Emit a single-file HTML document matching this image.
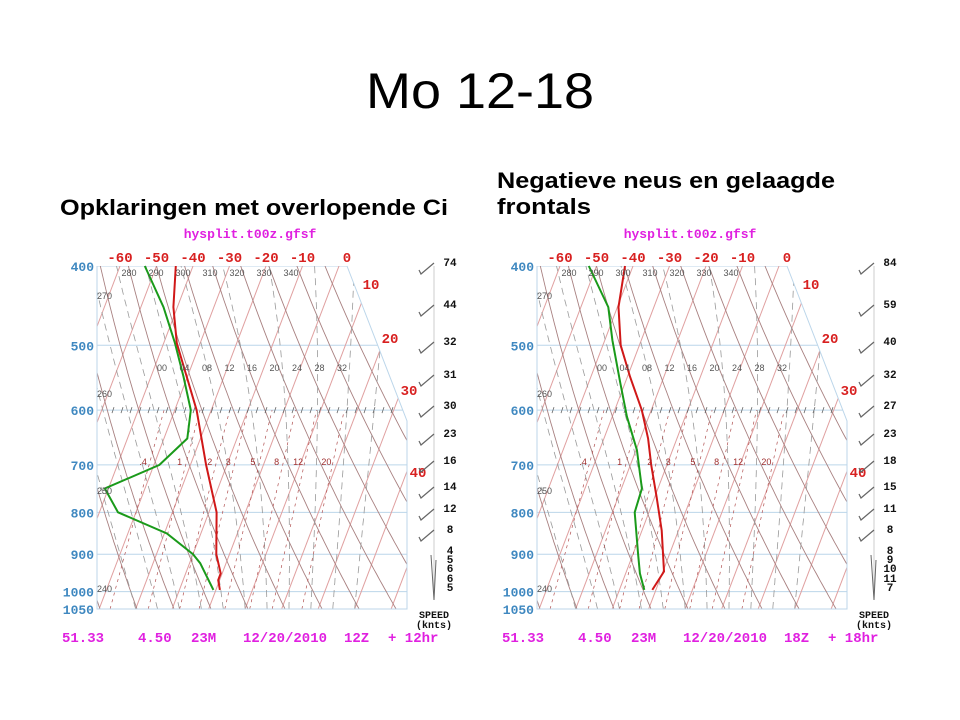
<!DOCTYPE html>
<html><head><meta charset="utf-8"><style>
html,body{margin:0;padding:0;background:#fff;}
svg{display:block;font-family:"Liberation Sans",sans-serif;}
.mono{font-family:"Liberation Mono",monospace;font-weight:bold;}
.pre{white-space:pre;}
</style></head><body>
<svg id="root" width="960" height="720" viewBox="0 0 960 720">
<text x="480" y="108" font-size="50" text-anchor="middle" fill="#000" textLength="228" lengthAdjust="spacingAndGlyphs">Mo 12-18</text>
<text x="60" y="215" font-size="22" font-weight="bold" textLength="388" lengthAdjust="spacingAndGlyphs">Opklaringen met overlopende Ci</text>
<text x="497" y="188" font-size="22" font-weight="bold" textLength="338" lengthAdjust="spacingAndGlyphs">Negatieve neus en gelaagde</text>
<text x="497" y="214" font-size="22" font-weight="bold" textLength="94" lengthAdjust="spacingAndGlyphs">frontals</text>
<g id="chartL"></g>
<g id="chartR" transform="translate(440,0)"></g>
</svg>
<script>
// ---- data ----
const leftTempP = [400,449,497,546,600,700,800,900,950,968,995];
const leftTemp  = [-44.7,-41.1,-36.4,-30.2,-24.0,-15.7,-7.9,-3.6,-0.4,-0.4,1.1];
const leftDewP  = [400,449,497,546,600,650,700,748,800,849,900,923,995];
const leftDew   = [-53.2,-43.8,-36.9,-31.1,-25.6,-23.6,-28.5,-41.0,-34.9,-19.3,-10.0,-7.1,-0.7];
const rightTempP = [400,449,500,546,600,650,700,766,842,945,995];
const rightTemp  = [-42.2,-39.7,-35.1,-29.3,-22.6,-17.9,-14.3,-9.5,-4.6,0.3,-1.0];
const rightDewP  = [400,449,493,556,611,671,748,800,900,950,995];
const rightDew   = [-52.1,-42.5,-37.9,-31.3,-26.0,-19.8,-14.4,-13.9,-8.6,-6.1,-3.2];
const leftWinds  = ['74','44','32','31','30','23','16','14','12','8','4','5','6','6','5'];
const rightWinds = ['84','59','40','32','27','23','18','15','11','8','8','9','10','11','7'];
const leftFooter = ['51.33','4.50','23M','12/20/2010','12Z','+ 12hr'];
const rightFooter = ['51.33','4.50','23M','12/20/2010','18Z','+ 18hr'];
const pressureTicks = [400,500,600,700,800,900,1000,1050];
const isothermTicks = [-60,-50,-40,-30,-20,-10,0];
const thetaLabels = [280,290,300,310,320,330,340];
const mixLabels = ['.4','1','2','3','5','8','12','20'];
const mixValues = [0.4,1,2,3,5,8,12,20];

// ---- axes ----
const yTop=266, kY=355.4, kT=3.65, skew=0.38, x0=339, xL=97, xR=407, yBot=609;
function Y(p){return yTop+Math.log(p/400)*kY;}
function X(T,p){return x0+kT*T-skew*(Y(p)-yTop);}
const NS='http://www.w3.org/2000/svg';
function el(par,tag,at,txt){const e=document.createElementNS(NS,tag);for(const k in at)e.setAttribute(k,at[k]);if(txt!==undefined)e.textContent=txt;par.appendChild(e);return e;}
function pts(arr){return arr.map(a=>a[0].toFixed(1)+','+a[1].toFixed(1)).join(' ');}
const footerX=[62,138,191,243,344,388];

function drawChart(g,id,tP,tT,dP,dT,winds,footer){
  const defs=el(g,'defs',{});
  const cp=el(defs,'clipPath',{id:'clip'+id});
  el(cp,'polygon',{points:`${xL},${yTop} 347,${yTop} ${xR},421 ${xR},${yBot} ${xL},${yBot}`});
  const bg=el(g,'g',{'clip-path':`url(#clip${id})`});
  
  
  pressureTicks.forEach(p=>{
    const l=el(bg,'line',{x1:xL,x2:xR,y1:Y(p),y2:Y(p),stroke:'#bcd6ea','stroke-width':1});
    
    
  });
  for(let T=-130;T<=60;T+=10){
    const l=el(bg,'line',{x1:X(T,1050),y1:Y(1050),x2:X(T,380),y2:Y(380),stroke:'#e0a0a0','stroke-width':1});
    
    
  }
  for(let th=230;th<=400;th+=10){
    const a=[];for(let p=1050;p>=390;p-=10){a.push([X(th*Math.pow(p/1000,0.286)-273.15,p),Y(p)]);}
    const l=el(bg,'polyline',{points:pts(a),fill:'none',stroke:'#a88080','stroke-width':0.9});
    
    
  }
  for(let T0=-20;T0<=40;T0+=6){
    let T=T0,a=[];
    for(let p=1050;p>=390;p-=5){
      a.push([X(T,p),Y(p)]);
      const Tk=T+273.15, es=6.112*Math.exp(17.67*T/(T+243.5)), rs=0.622*es/(p-es);
      const g1=(0.286*Tk+2.5e6*rs/1004)/(p*(1+2.5e6*2.5e6*rs*0.622/(1004*287*Tk*Tk)));
      T-=g1*5;
    }
    const l=el(bg,'polyline',{points:pts(a),fill:'none',stroke:'#999','stroke-width':0.8,'stroke-dasharray':'7,5'});
    
    
  }
  mixValues.forEach(w=>{
    const a=[];for(let p=1050;p>=600;p-=10){const e=w*p/(622+w),L=Math.log(e/6.112);a.push([X(243.5*L/(17.67-L),p),Y(p)]);}
    const l=el(bg,'polyline',{points:pts(a),fill:'none',stroke:'#b05050','stroke-width':0.7,'stroke-dasharray':'3,4'});
    
    
  });
  for(let x=112;x<400;x+=9){const t=el(bg,'line',{x1:x,y1:Y(600)+3,x2:x+2,y2:Y(600)-3,stroke:'#666','stroke-width':0.8});}
  const b=el(g,'polyline',{points:`347,${yTop} ${xR},421 ${xR},${yBot} ${xL},${yBot} ${xL},${yTop}`,fill:'none',stroke:'#bcd6ea','stroke-width':1});
  
  
  const dew=el(g,'polyline',{points:pts(dP.map((p,i)=>[X(dT[i],p),Y(p)])),fill:'none',stroke:'#1a9a1a','stroke-width':2});
  
  
  const tmp=el(g,'polyline',{points:pts(tP.map((p,i)=>[X(tT[i],p),Y(p)])),fill:'none',stroke:'#d01818','stroke-width':2});
  
  
  pressureTicks.forEach(p=>{
    const t=el(g,'text',{x:94,y:Y(p)+5,'font-size':13,'text-anchor':'end',fill:'#3f88c0',class:'mono'},String(p));
    
    
  });
  isothermTicks.forEach(T=>{
    const t=el(g,'text',{x:X(T,400)+(T===0?8:0),y:262,'font-size':14,'text-anchor':'middle',fill:'#d82020',class:'mono'},String(T));
    
    
  });
  [[10,371,289],[20,390,343],[30,409,395],[40,418,477]].forEach(v=>{
    const t=el(g,'text',{x:v[1],y:v[2],'font-size':14,'text-anchor':'middle',fill:'#d82020',class:'mono'},String(v[0]));
    
    
  });
  thetaLabels.forEach((th,i)=>{
    const t=el(g,'text',{x:129+i*27,y:276,'font-size':9,'text-anchor':'middle',fill:'#555'},String(th));
    
    
  });
  [['270',299],['260',397],['250',494],['240',592]].forEach(v=>{
    const t=el(g,'text',{x:97,y:v[1],'font-size':9,fill:'#555'},v[0]);
    
    
  });
  ['00','04','08','12','16','20','24','28','32'].forEach((s,i)=>{
    const t=el(g,'text',{x:162+i*22.5,y:371,'font-size':9,'text-anchor':'middle',fill:'#555'},s);
    
    
  });
  mixLabels.forEach((s,i)=>{
    const e=mixValues[i]*700/(622+mixValues[i]),L=Math.log(e/6.112);
    const t=el(g,'text',{x:X(243.5*L/(17.67-L),700)-6,y:465,'font-size':9,'text-anchor':'middle',fill:'#a03030'},s);
    
    
  });
  const ti=el(g,'text',{x:250,y:238,'font-size':13,'text-anchor':'middle',fill:'#e020e0',class:'mono'},'hysplit.t00z.gfsf');
  
  
  footer.forEach((s,i)=>{
    const ft=el(g,'text',{x:footerX[i],y:642,'font-size':14,fill:'#e020e0',class:'mono pre'},s);
    
    
  });
  const wy=[262,304,341,374,405,433,460,486,508,529,550,559,568,578,587];
  const st=el(g,'line',{x1:434,y1:266,x2:434,y2:600,stroke:'#ccc','stroke-width':1});
  
  
  winds.forEach((w,i)=>{
    const t=el(g,'text',{x:450,y:wy[i]+4,'font-size':11,'text-anchor':'middle',fill:'#111',class:'mono'},w);
    
    
    if(i<10){
      const y=wy[i]+6;
      const bb=el(g,'polyline',{points:`434,${y-5} 421,${y+6} 419,${y+2}`,fill:'none',stroke:'#666','stroke-width':1.2});
      
      
    }
  });
  const lb=el(g,'polyline',{points:'431,555 434,600 436,560',fill:'none',stroke:'#666','stroke-width':1});
  
  
  const sp=el(g,'text',{x:434,y:618,'font-size':10,'text-anchor':'middle',fill:'#111',class:'mono'},'SPEED');
  
  
  const kn=el(g,'text',{x:434,y:628,'font-size':10,'text-anchor':'middle',fill:'#111',class:'mono'},'(knts)');
  
  
}
drawChart(document.getElementById('chartL'),'L',leftTempP,leftTemp,leftDewP,leftDew,leftWinds,leftFooter);
drawChart(document.getElementById('chartR'),'R',rightTempP,rightTemp,rightDewP,rightDew,rightWinds,rightFooter);
</script>
</body></html>
